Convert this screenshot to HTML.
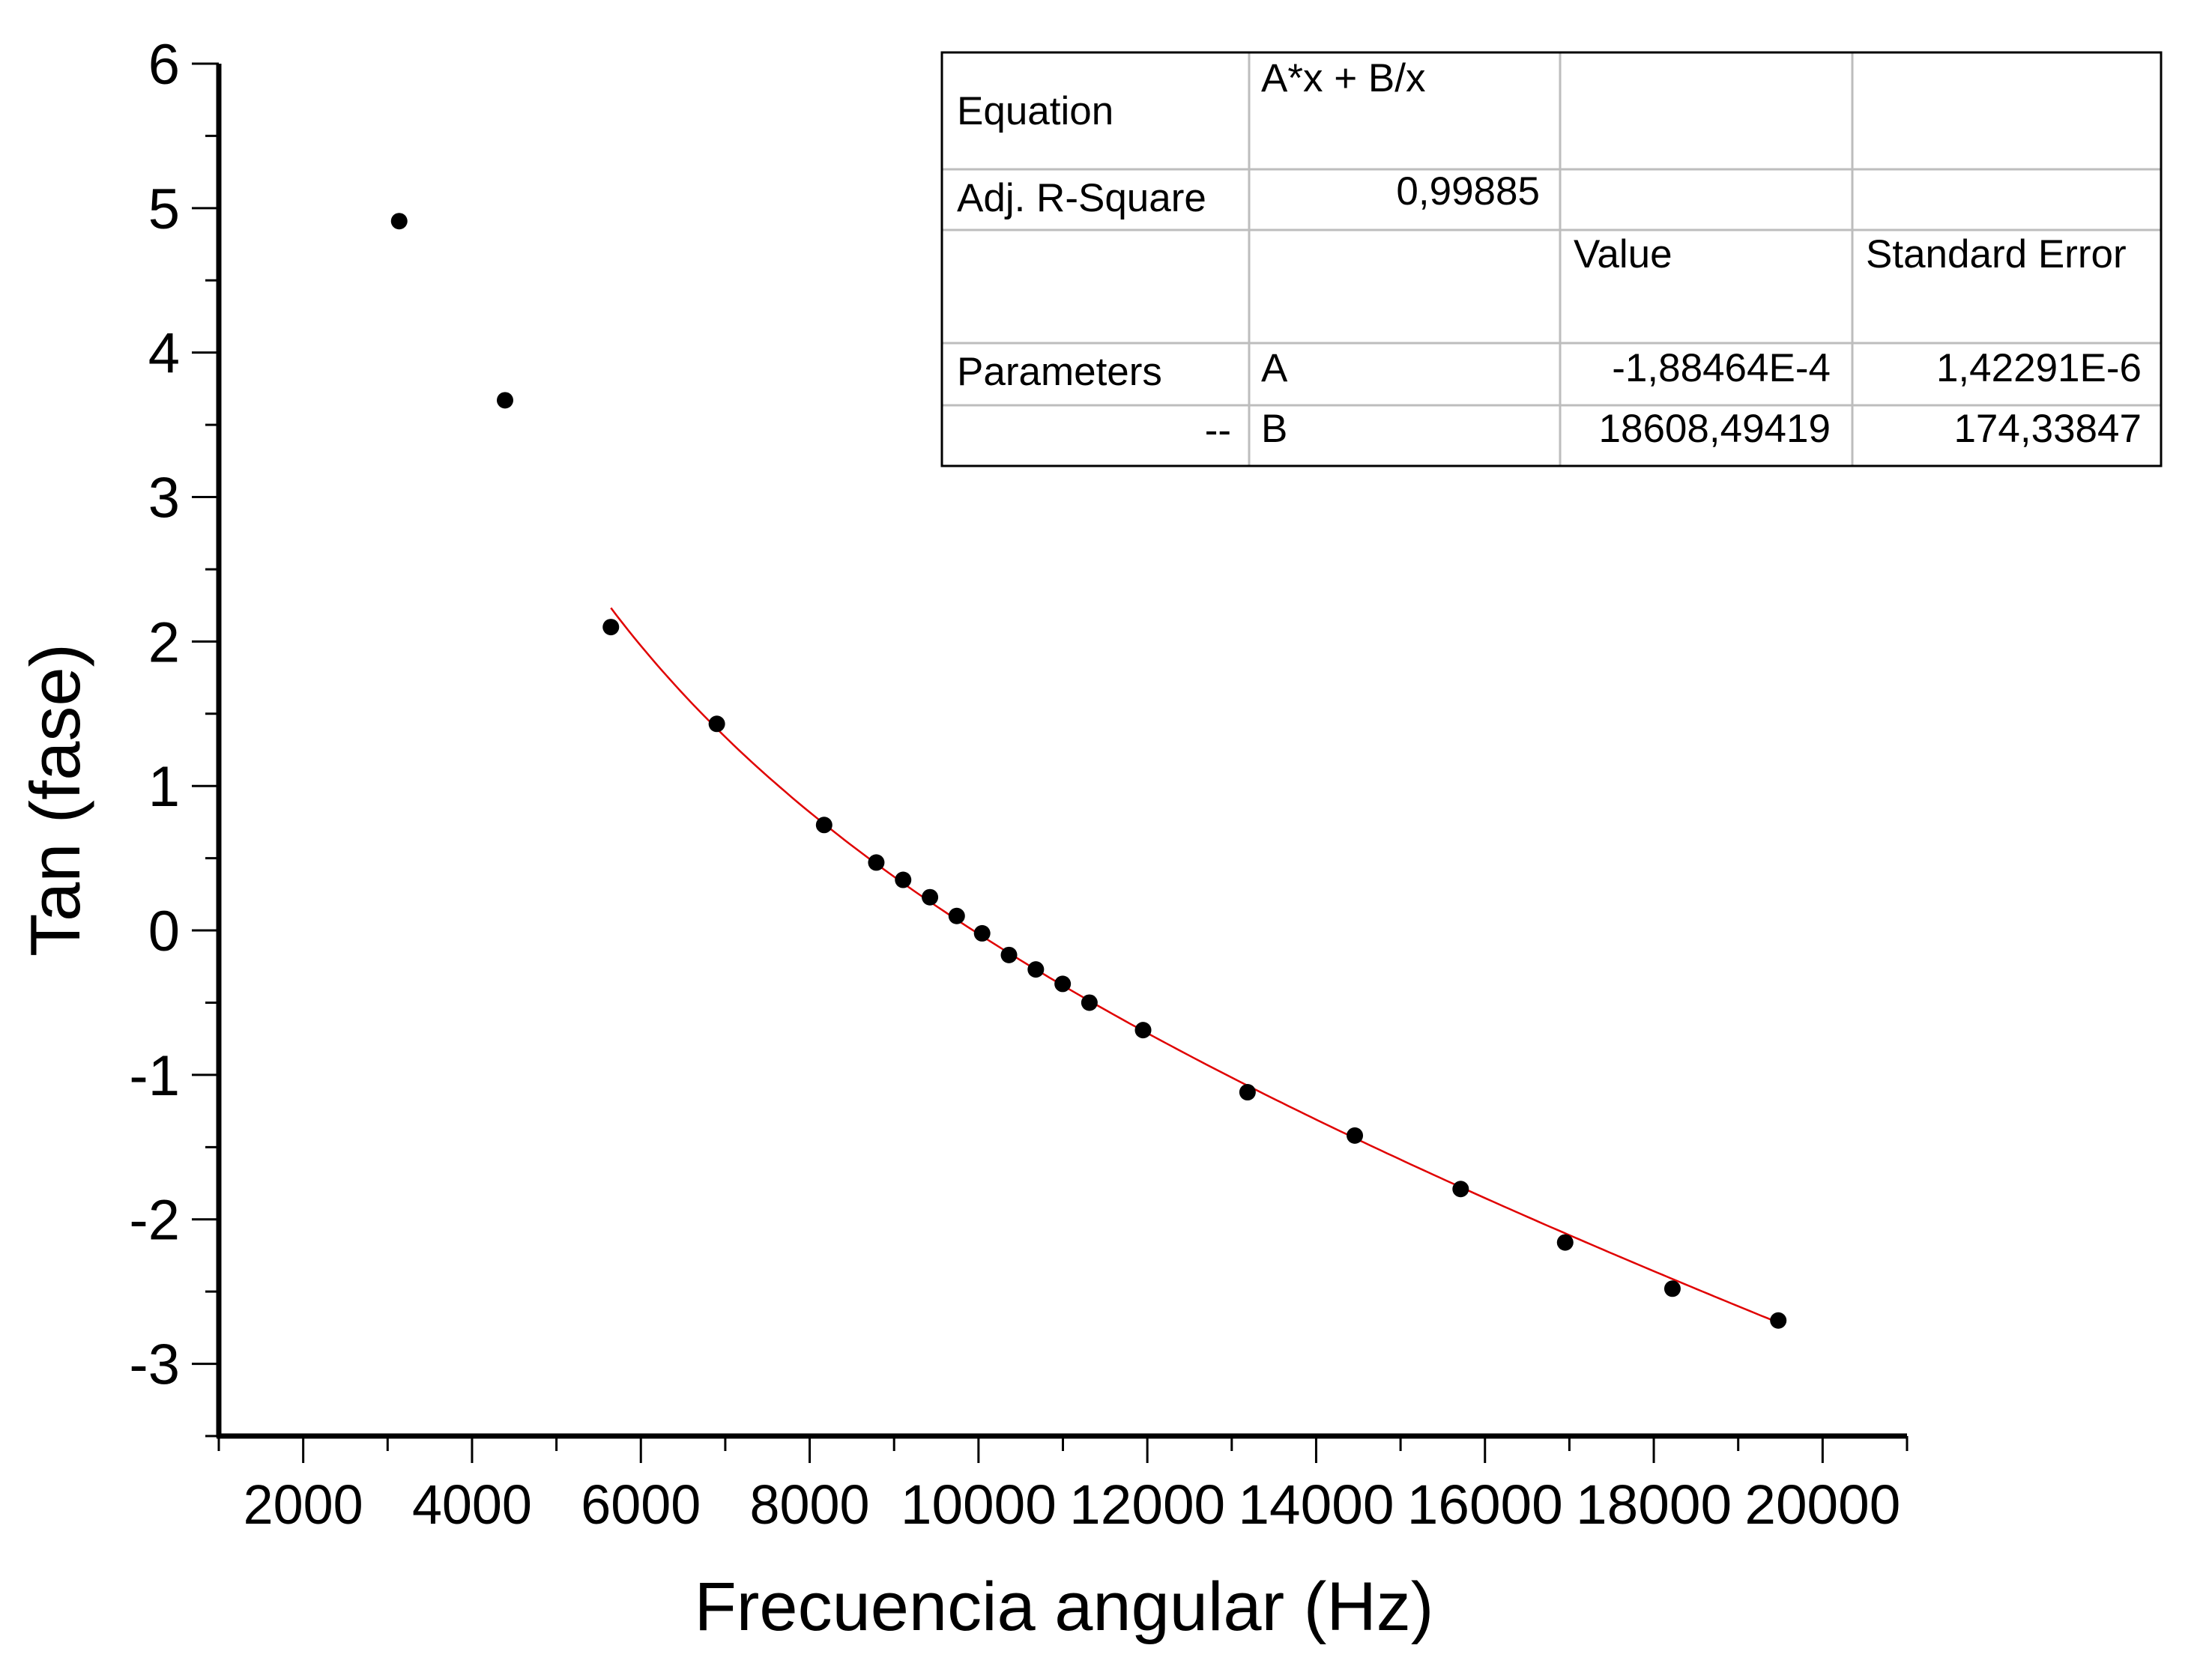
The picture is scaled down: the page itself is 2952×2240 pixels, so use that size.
<!DOCTYPE html>
<html><head><meta charset="utf-8"><style>
html,body{margin:0;padding:0;background:#fff;}
svg{display:block;font-family:"Liberation Sans",Arial,sans-serif;}
</style></head><body>
<svg id="chart" width="2952" height="2240" viewBox="0 0 2952 2240" xmlns="http://www.w3.org/2000/svg">
<rect width="2952" height="2240" fill="#fff"/>
<g id="axes"></g>
<g id="fit"></g>
<g id="pts"></g>
<text x="1420" y="2176" font-size="92" text-anchor="middle">Frecuencia angular (Hz)</text>
<text transform="translate(106,1068) rotate(-90)" font-size="94" text-anchor="middle">Tan (fase)</text>
<g id="table" font-size="53"></g>
</svg>
<script>
const xValues=[3137,4391,5645,6900,8171,8789,9107,9425,9742,10043,10361,10679,10997,11314,11950,13187,14458,15712,16950,18221,19475];
const yValues=[4.91,3.67,2.10,1.43,0.73,0.47,0.35,0.23,0.10,-0.02,-0.17,-0.27,-0.37,-0.50,-0.69,-1.12,-1.42,-1.79,-2.16,-2.48,-2.70];
const fitParams=[-1.88464e-4,18608.49419];
const fitRange=[5645,19475];
const xTicks=[2000,4000,6000,8000,10000,12000,14000,16000,18000,20000];
const yTicks=[-3,-2,-1,0,1,2,3,4,5,6];
const NS="http://www.w3.org/2000/svg";
const X0=292,X1=2545,XMIN=1000,XMAX=21000;
const Y0=1917,Y1=85,YMIN=-3.5,YMAX=6;
function sx(v){return X0+(v-XMIN)/(XMAX-XMIN)*(X1-X0);}
function sy(v){return Y0-(v-YMIN)/(YMAX-YMIN)*(Y0-Y1);}
function mk(tag,attrs,parent){const e=document.createElementNS(NS,tag);for(const k in attrs)e.setAttribute(k,attrs[k]);parent.appendChild(e);return e;}
const axes=document.getElementById('axes');
let e=mk('line',{x1:X0,y1:Y0+2,x2:X0,y2:Y1,stroke:'#000','stroke-width':7},axes);


e=mk('line',{x1:X0-3,y1:Y0,x2:X1,y2:Y0,stroke:'#000','stroke-width':7},axes);


for(let v=YMIN;v<=YMAX+1e-9;v+=0.5){
  const major=Math.abs(v-Math.round(v))<1e-9;
  e=mk('line',{x1:X0-(major?36:18),y1:sy(v),x2:X0,y2:sy(v),stroke:'#000','stroke-width':3},axes);
  
  
}
yTicks.forEach(v=>{
  e=mk('text',{x:X0-52,y:sy(v)+27,'font-size':76,'text-anchor':'end'},axes);
  e.textContent=String(v);
  
  
});
for(let v=XMIN;v<=XMAX+1;v+=1000){
  const major=v%2000===0;
  e=mk('line',{x1:sx(v),y1:Y0,x2:sx(v),y2:Y0+(major?36:20),stroke:'#000','stroke-width':3},axes);
  
  
}
xTicks.forEach(v=>{
  e=mk('text',{x:sx(v),y:2034,'font-size':74,'text-anchor':'middle',textLength:v>=10000?208:160,lengthAdjust:'spacingAndGlyphs'},axes);
  e.textContent=String(v);
  
  
});
let d='';
for(let i=0;i<=200;i++){const x=fitRange[0]+(fitRange[1]-fitRange[0])*i/200;const y=fitParams[0]*x+fitParams[1]/x;d+=(i?'L':'M')+sx(x).toFixed(1)+','+sy(y).toFixed(1);}
e=mk('path',{d:d,fill:'none',stroke:'#e00000','stroke-width':2.5},document.getElementById('fit'));


const pts=document.getElementById('pts');
xValues.forEach((x,i)=>{
  e=mk('circle',{cx:sx(x),cy:sy(yValues[i]),r:11,fill:'#000'},pts);
  
  
});
const tb=document.getElementById('table');
const cols=[1257,1667,2082,2472,2884],rows=[70,226,307,458,541,622];
cols.slice(1,4).forEach(c=>{e=mk('line',{x1:c,y1:rows[0],x2:c,y2:rows[5],stroke:'#bdbdbd','stroke-width':3},tb);});
rows.slice(1,5).forEach(r=>{e=mk('line',{x1:cols[0],y1:r,x2:cols[4],y2:r,stroke:'#bdbdbd','stroke-width':3},tb);});
e=mk('rect',{x:1257,y:70,width:1627,height:552,fill:'none',stroke:'#000','stroke-width':3},tb);


const cells=[
 [1277,166,'start','Equation'],[1683,122,'start','A*x  + B/x'],
 [1277,282,'start','Adj. R-Square'],[2055,273,'end','0,99885'],
 [2100,357,'start','Value'],[2490,357,'start','Standard Error'],
 [1277,514,'start','Parameters'],[1683,509,'start','A'],[2443,509,'end','-1,88464E-4'],[2858,509,'end','1,42291E-6'],
 [1643,592,'end','--'],[1683,590,'start','B'],[2443,590,'end','18608,49419'],[2858,590,'end','174,33847']
];
cells.forEach(c=>{
  e=mk('text',{x:c[0],y:c[1],'text-anchor':c[2]},tb);
  e.textContent=c[3];
  
  
});
</script>
</body></html>
